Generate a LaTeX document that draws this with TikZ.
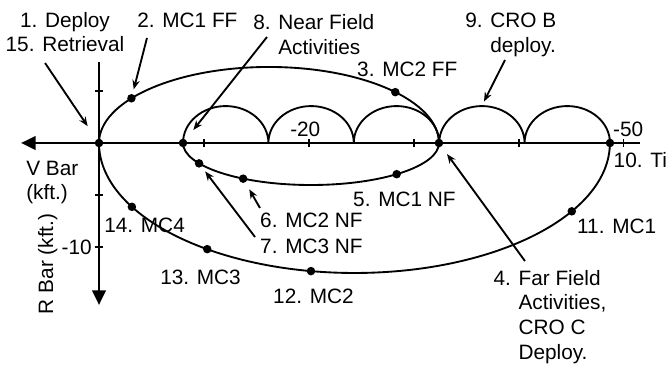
\documentclass[tikz,border=0pt]{standalone}
\usepackage{fontspec}
\setmainfont{Liberation Sans}
\usetikzlibrary{positioning,arrows.meta}

\begin{document}
\begin{tikzpicture}[
  x=7.875pt, y=7.8pt,
  font=\fontsize{15.6pt}{18.5pt}\selectfont,
  lbl/.style={inner sep=0pt, align=left},
  dot/.style={circle, fill, inner sep=0pt, minimum size=6.4pt},
  orbit/.style={line width=1.4pt},
  axis/.style={line width=2.2pt, -{Triangle[length=11pt,width=10pt]}},
  tick/.style={line width=0.8pt},
  arr/.style={line width=1.4pt, -{Stealth[length=7pt,width=5.5pt]}}
]
\useasboundingbox (-9.43,-21.35) rectangle (54.10,13.75);

% axes
\coordinate (vtail) at (51.52,0);
\coordinate (vtip) at (-7.43,0);
\coordinate (rtail) at (0,7.79);
\coordinate (rtip) at (0,-15.58);
\draw[axis] (vtail) -- (vtip);
\draw[axis] (rtail) -- (rtip);
\foreach \x in {10,20,...,50}
  \draw[tick] (\x,0.38) -- (\x,-0.38);
\foreach \y in {5,-5,-10}
  \draw[tick] (-0.38,\y) -- (0.38,\y);

% orbits
\draw[orbit] (0,0) arc[start angle=180, end angle=0, x radius=16.19, y radius=7.31];
\draw[orbit] (0,0) arc[start angle=180, end angle=360, x radius=24.33, y radius=12.5];
\draw[orbit] (8,0) arc[start angle=180, end angle=360, x radius=12.19, y radius=4.04];
\draw[orbit] (8,0) foreach \i in {1,...,5} {arc[start angle=180, end angle=0, x radius=4.067, y radius=3.55]};
\coordinate (hop) at (36.45,3.55);

% points
\node[dot] (dep) at (0,0) {};
\node[dot] (nf) at (8,0) {};
\node[dot] (ff) at (32.38,0) {};
\node[dot] (ti) at (48.67,0) {};
\node[dot] (ff1) at (3.09,4.30) {};
\node[dot] (ff2) at (28.22,4.89) {};
\node[dot] (nf1) at (28.35,-3.00) {};
\node[dot] (nf2) at (13.73,-3.43) {};
\node[dot] (nf3) at (9.53,-1.96) {};
\node[dot] (mc1) at (45.03,-6.57) {};
\node[dot] (mc2) at (20.19,-12.32) {};
\node[dot] (mc3) at (10.31,-10.21) {};
\node[dot] (mc4) at (3.13,-6.14) {};

% axis labels
\node[lbl, anchor=base west] (m20) at (18.19,0.58) {-20};
\node[lbl, anchor=base west] (m50) at (48.95,0.67) {-50};
\node[lbl, anchor=east] (m10) at (-0.67,-10) {-10};
\node[lbl, anchor=north west] (vbar) at (-6.95,-1.7) {V Bar\\(kft.)};
\node[lbl, anchor=base, rotate=90] (rbar) at (-4.38,-11.63) {R Bar (kft.)};

% event labels
\node[lbl, anchor=north, align=center] (l1) at (-3.24,12.6) {1. Deploy\\15. Retrieval};
\node[lbl, anchor=base west] (l2) at (3.62,11.15) {2. MC1 FF};
\node[lbl, anchor=base west] (l3) at (24.57,6.35) {3. MC2 FF};
\node[lbl, anchor=north west] (l4) at (37.55,-12.21) {4. Far Field\\\phantom{4. }Activities,\\\phantom{4. }CRO C\\\phantom{4. }Deploy.};
\node[lbl, anchor=base west] (l5) at (24.19,-6.06) {5. MC1 NF};
\node[lbl, anchor=base west] (l6) at (15.33,-8.08) {6. MC2 NF};
\node[lbl, anchor=base west] (l7) at (15.33,-10.58) {7. MC3 NF};
\node[lbl, anchor=north west] (l8) at (14.67,12.4) {8. Near Field\\\phantom{8. }Activities};
\node[lbl, anchor=north west] (l9) at (34.86,12.5) {9. CRO B\\\phantom{9. }deploy.};
\node[lbl, anchor=base west] (l10) at (49.0,-2.40) {10. Ti};
\node[lbl, anchor=base west] (l11) at (45.52,-8.75) {11. MC1};
\node[lbl, anchor=base west] (l12) at (16.57,-15.48) {12. MC2};
\node[lbl, anchor=base west] (l13) at (5.81,-13.56) {13. MC3};
\node[lbl, anchor=base west] (l14) at (0.48,-8.65) {14. MC4};

% pointers
\coordinate (t1) at (-5.14,7.69);
\coordinate (t2) at (4.57,10.10);
\coordinate (t8) at (16.0,10.19);
\coordinate (t9) at (38.67,7.98);
\coordinate (t4) at (40.57,-11.35);
\coordinate (t6) at (15.33,-6.25);
\coordinate (t7) at (14.86,-9.04);
\draw[arr, shorten >=11.8pt] (t1) -- (dep);
\draw[arr, shorten >=3.5pt] (t2) -- (ff1);
\draw[arr, shorten >=9.1pt] (t8) -- (nf);
\draw[arr, shorten >=3.8pt] (t9) -- (hop);
\draw[arr, shorten >=6.9pt] (t4) -- (ff);
\draw[arr, shorten >=5.8pt] (t6) -- (nf2);
\draw[arr, shorten >=4.2pt] (t7) -- (nf3);
\end{tikzpicture}
\end{document}
